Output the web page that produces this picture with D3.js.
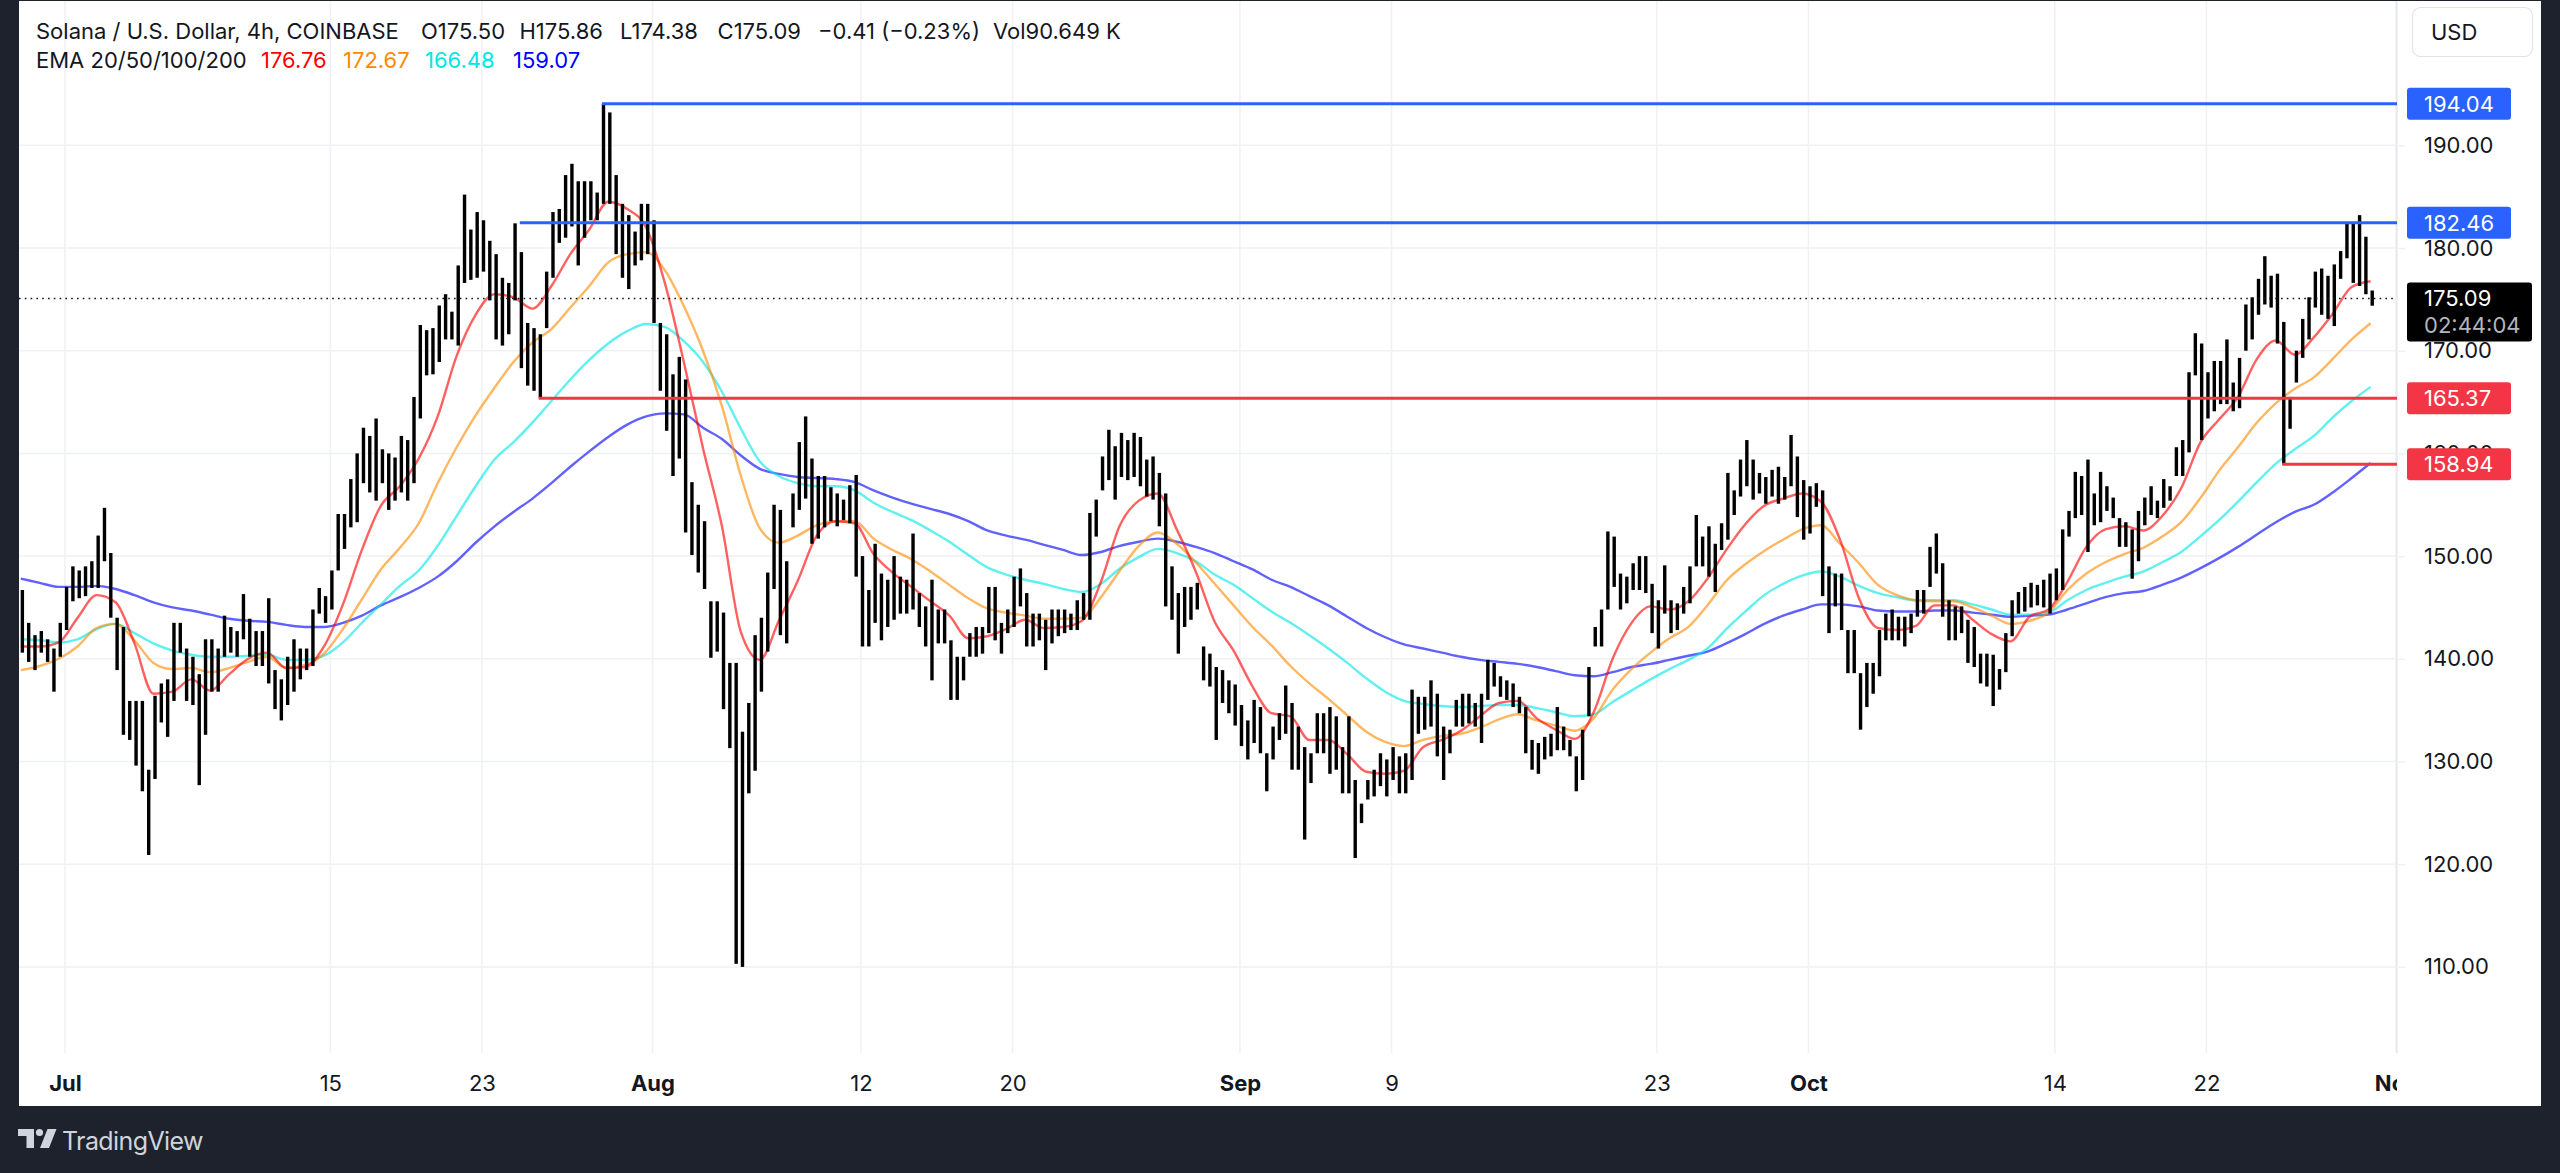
<!DOCTYPE html>
<html><head><meta charset="utf-8">
<script src="https://cdn.jsdelivr.net/npm/d3@7"></script>
<style>
html,body{margin:0;padding:0;background:#1e222d;overflow:hidden}
svg{display:block}
text{font-family:Inter, Roboto, "Noto Sans", sans-serif}
</style></head><body>
<svg id="chart" width="2560" height="1173"></svg>
<script>
// ---------------- DATA ----------------
// 8h bars (SOL/USD), first bar opens 2024-06-28 16:00 UTC
const barStart = "2024-06-28T16:00:00Z";
const barHigh = [
146.7,143.5,142.3,142.7,141.9,141.0,143.5,147.0,149.0,148.6,
149.0,149.5,152.0,154.7,150.3,144.0,143.1,135.9,135.9,135.9,
129.2,136.4,137.6,138.0,143.5,143.5,141.0,140.2,138.5,141.9,
141.9,141.0,144.2,143.1,142.7,146.3,143.9,142.7,142.7,145.9,
138.9,138.0,140.2,141.9,141.0,141.0,144.8,146.9,146.1,148.6,
154.1,154.1,157.5,160.0,162.5,161.7,163.4,160.4,160.0,159.6,
161.7,161.3,165.5,172.5,172.0,172.2,174.4,175.5,173.8,178.3,
185.2,181.8,183.5,182.7,180.7,179.4,177.1,176.6,182.4,179.6,
172.7,172.2,171.6,177.7,183.5,183.8,187.1,188.2,186.5,186.5,
186.5,185.4,194.04,193.2,187.1,184.3,183.2,181.6,184.3,184.3,
182.7,172.7,171.6,167.7,169.4,167.2,157.2,155.0,153.4,145.6,
145.6,144.5,139.6,139.6,132.9,135.7,142.3,144.0,148.4,155.0,
154.5,149.5,156.1,161.1,163.6,159.5,157.8,157.8,156.7,156.1,
155.5,156.9,157.9,150.0,146.7,151.2,148.3,147.7,150.0,148.0,
147.7,152.2,146.4,145.1,147.7,144.8,144.8,141.8,140.2,140.2,
142.5,143.1,143.1,147.0,147.0,143.5,144.8,148.0,148.8,146.4,
144.4,144.4,143.8,144.8,144.8,144.8,144.4,145.7,146.4,154.2,
155.5,159.7,162.3,160.7,162.0,161.3,162.0,161.6,159.4,159.7,
158.1,156.1,149.0,146.4,147.0,147.0,147.4,141.2,140.5,139.2,
138.9,137.9,137.5,135.5,134.0,136.0,135.3,130.8,133.4,134.7,
137.4,135.7,133.4,131.4,130.8,134.7,134.7,135.3,134.4,131.4,
134.4,128.2,125.9,128.2,129.2,130.8,130.2,131.4,130.5,130.8,
137.0,136.3,136.3,137.9,136.6,133.4,133.1,136.0,136.6,136.6,
135.7,136.6,139.9,139.6,138.3,137.9,137.6,136.3,135.3,132.1,
131.8,132.4,132.7,135.3,133.4,132.1,130.5,133.1,139.2,143.1,
144.8,152.4,151.9,148.3,148.0,149.3,150.0,150.0,147.3,145.7,
149.1,145.7,145.4,147.0,149.0,154.0,151.9,152.9,151.2,153.2,
158.1,156.4,159.4,161.3,159.4,158.1,157.7,158.4,158.7,157.7,
161.8,159.7,157.4,156.8,157.1,156.4,149.0,148.3,148.3,142.8,
142.8,138.6,139.6,139.6,142.8,144.4,144.8,144.1,144.1,144.4,
146.7,146.7,150.9,152.2,149.3,145.7,145.1,145.1,143.8,143.1,
140.5,140.5,140.4,139.0,142.5,145.7,146.5,147.0,147.4,147.2,
147.7,148.3,148.8,152.6,154.4,158.2,157.8,159.4,156.1,158.2,
156.8,155.7,153.7,153.3,152.6,154.4,155.7,156.8,155.4,157.5,
156.8,160.6,161.3,167.9,171.7,170.7,167.9,169.0,169.0,171.1,
166.9,169.3,174.5,175.2,177.0,179.2,177.3,177.5,172.8,165.5,
170.0,173.1,175.2,177.7,178.0,177.3,178.4,179.7,182.5,182.5,
183.2,181.1,175.86
];
const barLow = [
140.6,139.7,138.9,140.6,139.7,136.8,140.2,142.8,145.6,145.9,
146.1,146.9,146.9,149.5,144.0,138.9,132.6,132.1,129.6,127.1,
120.9,128.3,133.8,132.4,135.9,140.6,135.9,135.5,127.7,132.6,
136.8,136.8,140.2,140.6,140.2,141.9,140.2,139.3,139.3,137.6,
135.1,134.0,135.5,136.8,138.0,138.9,139.3,144.4,143.5,144.8,
148.6,150.7,152.8,153.3,157.1,156.2,155.4,157.1,154.5,155.4,
156.2,155.4,157.1,163.4,167.6,167.7,168.9,171.1,171.1,170.5,
176.6,176.9,177.1,177.7,174.9,171.1,170.5,171.6,174.9,168.3,
166.6,166.1,165.37,172.2,177.1,180.5,181.0,182.1,178.3,181.0,
182.7,182.7,184.3,184.3,179.4,177.1,176.0,178.3,178.8,179.4,
172.7,166.1,162.2,157.8,159.5,152.3,150.1,148.4,146.8,140.1,
140.7,135.1,131.3,110.3,110.0,126.9,129.1,136.8,140.7,146.8,
142.3,141.5,152.8,154.5,155.6,151.2,151.7,152.8,153.4,152.9,
153.5,153.2,148.0,141.2,141.2,143.5,141.8,143.1,143.8,144.4,
144.4,144.8,143.1,141.2,137.9,141.5,141.5,136.0,136.0,137.9,
140.2,140.2,140.5,142.5,141.8,140.5,142.5,143.1,145.1,141.2,
141.2,141.8,138.9,141.5,142.2,142.5,142.8,142.8,143.8,143.8,
151.9,156.4,157.4,155.5,157.7,157.4,157.7,156.8,155.8,155.5,
152.9,145.1,143.8,140.5,143.1,143.8,144.8,137.9,137.3,132.1,
135.7,134.7,133.5,131.5,130.2,131.8,130.8,127.1,130.2,132.1,
132.7,129.2,129.2,122.4,127.9,130.8,130.8,128.8,129.2,126.9,
126.9,120.6,124.0,126.3,126.6,127.6,126.6,128.2,126.9,126.9,
128.2,132.7,133.1,133.4,130.5,128.2,130.8,133.4,133.4,133.7,
133.4,131.8,136.0,137.3,136.3,136.0,135.3,134.7,130.8,129.2,
128.8,130.2,130.5,131.1,131.1,130.5,127.1,128.2,134.4,141.2,
141.2,144.8,147.0,144.8,145.4,146.7,146.7,146.4,142.5,141.0,
144.4,142.5,142.8,144.4,145.4,149.0,149.0,148.0,146.5,150.6,
151.6,154.0,155.8,156.8,155.5,156.1,155.1,155.8,155.1,155.5,
156.8,153.8,151.6,152.2,154.8,146.1,142.5,145.1,142.8,138.6,
138.6,133.1,135.3,136.6,138.3,141.8,141.8,141.8,141.2,142.5,
144.1,144.4,147.0,148.3,144.1,141.8,141.8,142.5,139.6,139.2,
137.6,137.3,135.4,137.0,138.7,142.2,144.4,144.6,145.0,145.2,
145.0,144.4,145.7,146.7,151.9,153.7,154.0,150.4,153.0,153.3,
154.4,153.7,150.9,150.9,147.8,149.5,153.0,154.0,153.7,154.7,
155.4,157.8,157.8,160.1,167.6,161.3,163.4,164.1,164.8,164.8,
164.1,164.4,170.0,171.1,173.5,174.5,174.2,170.7,158.94,162.4,
166.9,169.3,171.1,174.2,173.5,173.1,172.4,177.0,179.0,176.6,
176.3,175.5,174.38
];

// EMA values read once a day, at 16:00 UTC, from 2024-06-28
const emaStart = "2024-06-28T16:00:00Z";
const ema20 = [
141.2,141.2,141.6,144.0,146.2,145.5,141.5,136.6,136.8,138.0,
136.9,138.5,140.0,140.6,139.1,139.2,141.2,145.3,150.6,154.9,
156.8,159.5,163.6,169.5,173.5,175.5,175.2,174.1,176.3,179.4,
181.8,184.5,183.8,182.0,176.5,168.8,160.5,152.9,142.6,139.9,
143.7,147.6,152.0,153.4,153.2,150.2,148.4,147.0,145.6,144.2,
142.0,142.2,142.9,143.8,143.0,143.1,143.7,147.5,153.0,155.4,
156.1,152.6,148.5,143.6,140.8,137.3,134.7,134.4,132.1,132.1,
130.7,129.0,128.8,129.1,131.4,132.1,133.0,134.4,135.7,135.9,
134.2,133.1,132.2,134.8,140.0,143.5,145.1,144.8,145.6,147.8,
150.6,153.1,154.9,155.6,156.1,155.3,151.6,145.9,143.0,142.8,
143.2,145.2,145.2,143.8,142.4,141.7,144.1,144.8,147.5,150.9,
152.6,152.9,152.5,153.9,156.6,161.0,163.3,165.5,169.2,171.0,
169.6,171.3,173.6,176.2,176.76
];
const ema50 = [
138.9,139.3,140.0,141.2,143.0,143.4,141.8,139.6,139.0,139.1,
138.7,139.1,139.7,140.2,139.1,139.4,140.5,142.9,145.8,148.7,
150.8,153.2,157.1,160.6,163.7,166.4,168.9,170.8,172.1,174.2,
176.3,178.6,179.4,179.6,177.8,174.3,170.0,164.6,157.8,152.7,
151.3,152.0,153.0,153.4,153.4,151.7,150.6,149.7,148.5,147.2,
145.9,144.9,144.5,144.2,143.9,143.9,144.0,146.0,148.6,151.0,
152.3,151.2,149.4,147.3,145.2,143.1,141.3,139.3,137.6,136.1,
134.5,132.9,131.9,131.5,132.1,132.5,132.7,133.3,134.1,134.6,
134.0,133.5,133.0,134.2,137.0,139.0,140.6,142.0,143.1,145.2,
147.6,149.2,150.5,151.6,152.6,153.0,151.2,149.3,147.2,146.2,
145.7,145.6,145.6,145.0,144.2,143.4,143.7,144.5,146.7,148.3,
149.4,150.2,150.8,151.9,153.3,155.6,158.3,160.6,163.0,164.9,
166.3,167.4,169.2,171.1,172.67
];
const ema100 = [
141.9,141.8,141.6,141.9,142.9,143.4,142.5,141.5,140.8,140.4,
140.2,140.2,140.3,140.4,139.9,139.9,140.3,141.6,143.5,145.3,
147.1,148.6,151.0,153.9,156.8,159.4,161.1,163.0,165.1,167.2,
169.1,170.7,171.9,172.6,172.3,170.9,168.9,166.0,162.4,159.2,
157.8,157.1,156.8,156.8,156.4,155.2,154.3,153.5,152.5,151.4,
150.1,148.9,148.2,147.7,147.3,146.8,146.5,147.3,148.8,149.9,
150.7,150.3,149.5,148.2,147.2,145.9,144.6,143.5,142.3,141.0,
139.6,138.1,136.8,135.9,135.6,135.4,135.3,135.4,135.5,135.5,
135.2,134.8,134.4,134.6,135.8,136.9,138.0,139.0,139.9,141.0,
142.9,144.6,146.2,147.3,148.1,148.5,148.0,147.1,146.4,146.0,
145.7,145.7,145.7,145.3,144.8,144.3,144.3,144.5,145.7,146.7,
147.4,148.0,148.5,149.4,150.4,151.9,153.5,155.3,157.2,159.0,
160.4,161.7,163.5,165.1,166.48
];
const ema200 = [
147.8,147.4,147.0,147.0,147.1,146.8,146.2,145.5,145.0,144.7,
144.3,143.9,143.7,143.6,143.3,143.1,143.1,143.5,144.2,145.2,
146.0,146.9,148.0,149.5,151.3,152.9,154.3,155.6,157.1,158.7,
160.2,161.6,162.8,163.6,163.9,163.8,162.5,161.4,159.8,158.5,
158.0,157.7,157.6,157.5,157.2,156.4,155.7,155.1,154.6,154.1,
153.4,152.5,152.0,151.6,151.1,150.6,150.1,150.4,151.0,151.4,
151.7,151.4,150.9,150.3,149.5,148.7,147.7,147.0,146.1,145.2,
144.1,143.0,142.1,141.4,141.0,140.6,140.2,139.9,139.7,139.5,
139.2,138.8,138.4,138.3,138.7,139.2,139.5,139.9,140.3,140.7,
141.5,142.4,143.4,144.2,144.8,145.3,145.3,145.1,144.7,144.6,
144.6,144.7,144.7,144.5,144.3,144.1,144.2,144.3,144.8,145.4,
146.0,146.4,146.6,147.2,147.9,148.8,149.8,150.9,152.1,153.3,
154.3,155.0,156.2,157.6,159.07
];

// horizontal levels drawn on the chart
const levelValues = [194.04, 182.46, 165.37, 158.94];
const levelStarts = ["2024-07-29T08:00:00Z","2024-07-25T00:00:00Z","2024-07-26T00:00:00Z","2024-10-26T00:00:00Z"];
const levelKinds  = ["resistance","resistance","support","support"];

const lastPrice = 175.09;
const countdown = "02:44:04";

const priceTicks = [110,120,130,140,150,160,170,180,190];
const timeTickDates  = ["2024-07-01","2024-07-15","2024-07-23","2024-08-01","2024-08-12","2024-08-20","2024-09-01","2024-09-09","2024-09-23","2024-10-01","2024-10-14","2024-10-22","2024-11-01"];
const timeTickLabels = ["Jul","15","23","Aug","12","20","Sep","9","23","Oct","14","22","Nov"];

const headerLine1 = ["Solana / U.S. Dollar, 4h, COINBASE","O175.50","H175.86","L174.38","C175.09","\u22120.41 (\u22120.23%)","Vol90.649 K"];
const emaLegendTitle = "EMA 20/50/100/200";
const emaLegendValues = ["176.76","172.67","166.48","159.07"];

// ---------------- DRAW ----------------
const svg = d3.select("#chart");
const ink = "#131722";
const gridCol = "#f0f1f4";
const FS = "22px";
const emaCols = ["#ff0000","#ff8a00","#00e6e6","#0000ff"];
const kindCol = {resistance:"#2962ff", support:"#f23645"};

const P = {left:19, right:2397, top:0, bottom:1053};

// frame
svg.append("rect").attr("x",0).attr("y",0).attr("width",2560).attr("height",1173).attr("fill","#1e222d");
svg.append("rect").attr("x",19).attr("y",1).attr("width",2522).attr("height",1105).attr("fill","#ffffff");

const x = d3.scaleUtc()
  .domain([new Date("2024-07-01T00:00:00Z"), new Date("2024-11-01T00:00:00Z")])
  .range([65, 2395.9]);
const y = d3.scaleLinear().domain([110,190]).range([966.9,145.3]);

const defs = svg.append("defs");
defs.append("clipPath").attr("id","plotClip").append("rect")
  .attr("x",P.left).attr("y",P.top).attr("width",P.right-P.left).attr("height",P.bottom-P.top);
defs.append("clipPath").attr("id","timeClip").append("rect")
  .attr("x",P.left).attr("y",P.bottom).attr("width",P.right-P.left).attr("height",60);

const tickDates = timeTickDates.map(s => new Date(s+"T00:00:00Z"));

// grid
const grid = svg.append("g");
grid.selectAll("line.v").data(tickDates).join("line")
  .attr("x1",d=>x(d)).attr("x2",d=>x(d)).attr("y1",P.top+1).attr("y2",P.bottom)
  .attr("stroke",gridCol).attr("stroke-width",1.5).attr("clip-path","url(#plotClip)");
grid.selectAll("line.h").data(priceTicks).join("line")
  .attr("x1",P.left).attr("x2",P.right).attr("y1",d=>y(d)).attr("y2",d=>y(d))
  .attr("stroke",gridCol).attr("stroke-width",1.5);

// axis separator
svg.append("line").attr("x1",P.right).attr("x2",P.right).attr("y1",1).attr("y2",P.bottom)
  .attr("stroke","#e0e3eb").attr("stroke-width",1.2);

const plotG = svg.append("g").attr("clip-path","url(#plotClip)");

// EMA lines (under bars)
const emaT0 = new Date(emaStart);
const emaSeries = [ema200, ema100, ema50, ema20];
const emaSeriesCols = [emaCols[3], emaCols[2], emaCols[1], emaCols[0]];
const lineGen = d3.line().x(d=>x(d.t)).y(d=>y(d.v)).curve(d3.curveMonotoneX);
emaSeries.forEach((arr,si)=>{
  const pts = arr.map((v,k)=>({t:d3.utcDay.offset(emaT0,k), v}));
  plotG.append("path").datum(pts).attr("d",lineGen)
    .attr("fill","none").attr("stroke",emaSeriesCols[si]).attr("stroke-opacity",0.62)
    .attr("stroke-width",2.4).attr("stroke-linejoin","round");
});

// bars
const barT0 = new Date(barStart);
const bars = barHigh.map((h,i)=>({t:d3.utcHour.offset(barT0, 8*i+2), h, l:barLow[i]}));
plotG.append("g").selectAll("rect").data(bars).join("rect")
  .attr("x",d=>x(d.t)-1.7).attr("width",3.4)
  .attr("y",d=>y(d.h)).attr("height",d=>Math.max(1,y(d.l)-y(d.h)))
  .attr("fill","#000");

// last price dotted line
plotG.append("line").attr("x1",P.left).attr("x2",P.right).attr("y1",y(lastPrice)).attr("y2",y(lastPrice))
  .attr("stroke",ink).attr("stroke-width",1.6).attr("stroke-dasharray","1.6,4.2");

// levels
levelValues.forEach((v,i)=>{
  plotG.append("line").attr("x1",x(new Date(levelStarts[i]))).attr("x2",P.right)
    .attr("y1",y(v)).attr("y2",y(v)).attr("stroke",kindCol[levelKinds[i]]).attr("stroke-width",3);
});

// price axis
const yAxis = d3.axisRight(y).tickValues(priceTicks).tickFormat(d3.format(".2f")).tickSize(8).tickPadding(19);
const ya = svg.append("g").attr("transform",`translate(${P.right},0)`).call(yAxis);
ya.select(".domain").remove();
ya.selectAll(".tick line").attr("stroke",gridCol).attr("stroke-width",1.5);
ya.selectAll(".tick text").attr("fill",ink).style("font-size",FS).style("font-family","Inter, Roboto, sans-serif");

// level labels
levelValues.forEach((v,i)=>{
  const g = svg.append("g");
  g.append("rect").attr("x",2407).attr("y",y(v)-16).attr("width",104).attr("height",32).attr("rx",3)
    .attr("fill",kindCol[levelKinds[i]]);
  g.append("text").attr("x",2424).attr("y",y(v)).attr("dy","0.36em").attr("fill","#fff")
    .style("font-size",FS).text(d3.format(".2f")(v));
});

// last price label
const lp = svg.append("g");
lp.append("rect").attr("x",2407).attr("y",y(lastPrice)-16).attr("width",125).attr("height",59).attr("rx",3).attr("fill","#000");
lp.append("text").attr("x",2424).attr("y",y(lastPrice)).attr("dy","0.36em").attr("fill","#fff").style("font-size",FS).text(d3.format(".2f")(lastPrice));
lp.append("text").attr("x",2424).attr("y",y(lastPrice)+27).attr("dy","0.36em").attr("fill","#b2b5be").style("font-size",FS).text(countdown);

// USD button
svg.append("rect").attr("x",2412.5).attr("y",7.5).attr("width",120).attr("height",49).attr("rx",8)
  .attr("fill","#fff").attr("stroke","#e0e3eb").attr("stroke-width",1.2);
svg.append("text").attr("x",2431).attr("y",32).attr("dy","0.36em").attr("fill",ink).style("font-size",FS).text("USD");

// time axis (labels clipped at the price-axis border)
const clipG = svg.append("g").attr("clip-path","url(#timeClip)");
const xAxis = d3.axisBottom(x).tickValues(tickDates).tickFormat((d,i)=>timeTickLabels[i]).tickSize(0).tickPadding(22);
const xag = clipG.append("g").attr("transform",`translate(0,${P.bottom})`).call(xAxis);
xag.select(".domain").remove();
xag.selectAll(".tick text").attr("fill",ink).style("font-size",FS)
  .style("font-family","Inter, Roboto, sans-serif")
  .style("font-weight",d=> d.getUTCDate()===1 ? 700 : 400);

// header
const hdr = svg.append("g").attr("fill",ink).style("font-size",FS);
const hdrX = [36,421,519.5,620,717.6,818,993];
headerLine1.forEach((s,i)=>hdr.append("text").attr("x",hdrX[i]).attr("y",39).text(s));
hdr.append("text").attr("x",36).attr("y",68).text(emaLegendTitle);
const legX = [261,343,425,513];
emaLegendValues.forEach((s,i)=>hdr.append("text").attr("x",legX[i]).attr("y",68).attr("fill",emaCols[i]).text(s));

// footer logo
const ft = svg.append("g").attr("fill","#d1d4dc");
ft.append("path").attr("d","M18,1129 H34 V1148 H26.5 V1136 H18 Z");
ft.append("circle").attr("cx",39.5).attr("cy",1132.5).attr("r",3.6);
ft.append("path").attr("d","M47.5,1129 H56.5 L49,1148 H40 Z");
ft.append("text").attr("x",62).attr("y",1150).style("font-size","25px").style("letter-spacing","-0.6px").text("TradingView");
</script>
</body></html>
